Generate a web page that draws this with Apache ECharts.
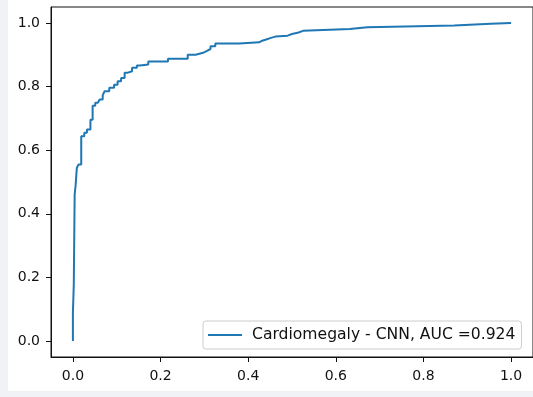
<!DOCTYPE html>
<html>
<head>
<meta charset="utf-8">
<script src="https://cdn.jsdelivr.net/npm/echarts@6/dist/echarts.min.js"></script>
<style>
  html, body { margin: 0; padding: 0; background: #f1f2f6; }
  #main { position: absolute; left: 8px; top: 0; width: 525px; height: 391px; background: #fff; }
</style>
</head>
<body>
<div id="main"></div>
<script>
// ROC curve corners
var fpr = [0, 0, 0.002, 0.002, 0.004, 0.004, 0.006, 0.006, 0.009, 0.009,
  0.013, 0.013, 0.019, 0.019, 0.026, 0.026, 0.032, 0.032, 0.040, 0.040,
  0.045, 0.045, 0.051, 0.051, 0.057, 0.057, 0.061, 0.061, 0.068, 0.068,
  0.072, 0.072, 0.083, 0.083, 0.094, 0.094, 0.102, 0.102, 0.110, 0.110,
  0.118, 0.118, 0.124, 0.124, 0.135, 0.135, 0.146, 0.146, 0.153, 0.153,
  0.172, 0.172, 0.217, 0.217, 0.262, 0.262, 0.280, 0.280, 0.297, 0.297,
  0.306, 0.306, 0.314, 0.314, 0.325, 0.325, 0.380, 0.380, 0.425, 0.425,
  0.432, 0.432, 0.441, 0.441, 0.452, 0.452, 0.462, 0.462, 0.490, 0.490,
  0.500, 0.500, 0.515, 0.515, 0.525, 0.525, 0.632, 0.632, 0.672, 0.672,
  0.870, 0.870, 0.953, 0.953, 1.0];
var tpr = [0, 0.090, 0.090, 0.178, 0.178, 0.461, 0.461, 0.487, 0.487, 0.545,
  0.545, 0.555, 0.555, 0.644, 0.644, 0.655, 0.655, 0.665, 0.665, 0.696,
  0.696, 0.740, 0.740, 0.749, 0.749, 0.754, 0.754, 0.759, 0.759, 0.772,
  0.772, 0.785, 0.785, 0.796, 0.796, 0.806, 0.806, 0.817, 0.817, 0.827,
  0.827, 0.843, 0.843, 0.848, 0.848, 0.859, 0.859, 0.866, 0.866, 0.869,
  0.869, 0.879, 0.879, 0.887, 0.887, 0.900, 0.900, 0.906, 0.906, 0.912,
  0.912, 0.918, 0.918, 0.927, 0.927, 0.935, 0.935, 0.939, 0.939, 0.944,
  0.944, 0.948, 0.948, 0.953, 0.953, 0.957, 0.957, 0.960, 0.960, 0.965,
  0.965, 0.970, 0.970, 0.975, 0.975, 0.981, 0.981, 0.986, 0.986, 0.992,
  0.992, 0.997, 0.997, 1.0, 1.0];
var xTicks = [0, 0.2, 0.4, 0.6, 0.8, 1.0];
var yTicks = [0, 0.2, 0.4, 0.6, 0.8, 1.0];
var seriesName = 'Cardiomegaly - CNN, AUC =0.924';

var points = fpr.map(function (x, i) { return [x, tpr[i]]; });

var font = 'DejaVu Sans';
var ink = '#111';

var chart = echarts.init(document.getElementById('main'));
chart.setOption({
  animation: false,
  grid: {
    left: 43, top: 7, width: 484, height: 350,
    show: true, borderColor: ink, borderWidth: 1
  },
  legend: {
    left: 195, top: 321,
    padding: [6, 6, 6, 5],
    borderColor: '#ccc', borderWidth: 1, borderRadius: 3,
    backgroundColor: '#fff',
    itemWidth: 34, itemHeight: 2,
    icon: 'rect',
    textStyle: { fontFamily: font, fontSize: 15.6, color: ink, padding: [0, 0, 0, 5] },
    data: [seriesName]
  },
  xAxis: {
    type: 'value', min: -0.05, max: 1.05,
    axisLine: { show: true, onZero: false, lineStyle: { color: ink } },
    splitLine: { show: false },
    axisTick: { show: true, length: 5, customValues: xTicks, lineStyle: { color: ink } },
    axisLabel: {
      customValues: xTicks, margin: 12,
      fontFamily: font, fontSize: 14, color: ink,
      formatter: function (v) { return v.toFixed(1); }
    }
  },
  yAxis: {
    type: 'value', min: -0.05, max: 1.05,
    axisLine: { show: true, onZero: false, lineStyle: { color: ink } },
    splitLine: { show: false },
    axisTick: { show: true, length: 5, customValues: yTicks, lineStyle: { color: ink } },
    axisLabel: {
      customValues: yTicks, margin: 11,
      fontFamily: font, fontSize: 14, color: ink,
      formatter: function (v) { return v.toFixed(1); }
    }
  },
  series: [{
    name: seriesName,
    type: 'line',
    data: points,
    showSymbol: false,
    symbol: 'none',
    itemStyle: { color: '#1f77b4' },
    lineStyle: { color: '#1f77b4', width: 2 }
  }]
});
</script>
</body>
</html>
